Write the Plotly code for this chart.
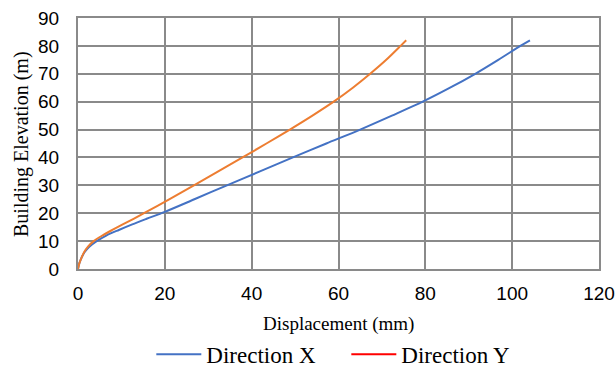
import plotly.graph_objects as go

# Storey displacement profiles (mm) against building elevation (m)
elev_x = [0, 2, 4, 6, 8, 10, 12, 14, 16, 18, 20.5, 25, 30, 35, 40, 45, 50, 55,
          60, 65, 70, 75, 80, 82]
disp_x = [0, 0.3, 0.8, 1.5, 2.6, 4.3, 6.5, 9.4, 12.5, 15.8, 20, 26.8, 34.3, 41.9,
          49.5, 57.2, 65.0, 72.3, 79.4, 85.7, 91.5, 96.8, 101.9, 104.1]

elev_y = [0, 2, 4, 6, 8, 10, 12, 14, 16, 18, 20, 25, 30, 35, 40, 45, 50, 55, 60,
          65, 70, 75, 80, 82]
disp_y = [0, 0.3, 0.8, 1.4, 2.3, 3.6, 5.6, 7.9, 10.3, 12.8, 15.2, 21.0, 26.7, 32.3,
          37.9, 43.4, 48.8, 54.0, 58.9, 63.3, 67.3, 71.0, 74.3, 75.6]

x_ticks = [0, 20, 40, 60, 80, 100, 120]
y_ticks = [0, 10, 20, 30, 40, 50, 60, 70, 80, 90]

BLUE = "#4472C4"
ORANGE = "#ED7D31"
RED = "#FF0000"
GRID = "#8a8a8a"
SERIF = "Liberation Serif, Times New Roman, serif"

fig = go.Figure()
fig.add_trace(go.Scatter(x=disp_x, y=elev_x, mode="lines", name="Direction X",
                         line=dict(color=BLUE, width=2, shape="spline", smoothing=0.8)))
fig.add_trace(go.Scatter(x=disp_y, y=elev_y, mode="lines", name="Direction Y",
                         line=dict(color=ORANGE, width=2, shape="spline", smoothing=0.8),
                         showlegend=False))
# legend entry for direction Y uses a red key
fig.add_trace(go.Scatter(x=[None], y=[None], mode="lines", name="Direction Y",
                         line=dict(color=RED, width=2)))

fig.update_layout(
    width=616, height=370,
    margin=dict(l=78, r=17, t=18, b=101, autoexpand=False),
    paper_bgcolor="white", plot_bgcolor="white",
    font=dict(family="Liberation Sans, Arial", size=19, color="#000000"),
    showlegend=True,
    legend=dict(orientation="h", x=0.515, xanchor="center", y=-0.34, yanchor="middle",
                font=dict(family=SERIF, size=23, color="#000000"),
                itemwidth=45, entrywidth=135, entrywidthmode="pixels",
                traceorder="normal"),
    annotations=[
        dict(text="Displacement (mm)", xref="paper", yref="paper", x=0.5, y=-0.221,
             xanchor="center", yanchor="middle", showarrow=False,
             font=dict(family=SERIF, size=19, color="#000000")),
        dict(text="Building Elevation (m)", xref="paper", yref="paper", x=-0.1085, y=0.5,
             xanchor="center", yanchor="middle", showarrow=False, textangle=-90,
             font=dict(family=SERIF, size=20, color="#000000")),
    ],
)
fig.update_xaxes(range=[0, 120], tickvals=x_ticks, ticktext=[str(v) for v in x_ticks],
                 showgrid=True, gridcolor=GRID, gridwidth=2, zeroline=False,
                 showline=True, linecolor=GRID, linewidth=2, mirror=True,
                 ticks="", ticklabelstandoff=6, automargin=False)
fig.update_yaxes(range=[0, 90], tickvals=y_ticks, ticktext=[str(v) for v in y_ticks],
                 showgrid=True, gridcolor=GRID, gridwidth=2, zeroline=False,
                 showline=True, linecolor=GRID, linewidth=2, mirror=True,
                 ticks="", ticklabelstandoff=13, automargin=False)

fig.write_html("out.html")
